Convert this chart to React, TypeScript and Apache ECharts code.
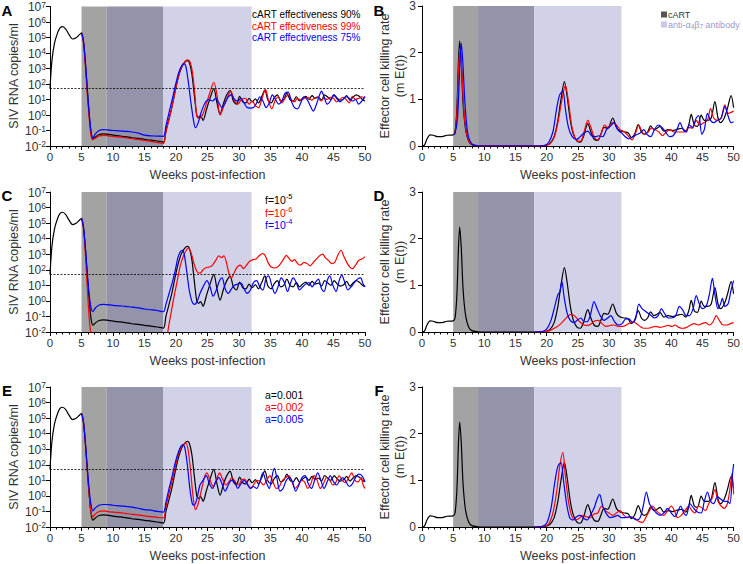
import React, { useEffect, useRef } from 'react';
import * as echarts from 'echarts';

const FONT = '"Liberation Sans", Arial, sans-serif';

// ---- shaded treatment windows (weeks) ----
const bandRanges: [number, number][] = [[5, 9], [9, 18], [18, 32]];
const bandColors = ['#a3a3a3', '#9393a9', '#d1d1e7'];
const detectionLimit = 50;
const xTicks = { min: 0, max: 50, interval: 5 };

// ---- viral load (copies/ml), base case (black in A, C, E) ----
const vBlack: [number, number][] = [[0,50],[0.3,3000],[0.7,4e4],[1.2,2e5],[1.6,4.2e5],[2,5e5],[2.5,3.5e5],[3,1.6e5],[3.6,8e4],[4.2,1e5],[4.7,1.6e5],[5,2e5],[5.3,6e4],[5.6,3000],[5.9,60],[6.2,1.5],[6.5,0.08],[6.8,0.028],[7.2,0.038],[7.8,0.055],[8.5,0.06],[9,0.058],[10,0.05],[11,0.045],[12,0.04],[13,0.034],[14,0.031],[15,0.027],[16,0.024],[17,0.021],[18,0.018],[18.4,0.1],[18.9,0.6],[19.4,4],[19.9,40],[20.4,300],[20.9,1200],[21.4,2500],[21.8,3200],[22.1,2500],[22.5,500],[22.9,20],[23.3,1],[23.6,0.7],[23.9,0.9],[24.3,0.45],[24.8,2],[25.4,12],[26,50],[26.5,6],[27,1.1],[27.5,5],[28,18],[28.6,38],[29.1,8],[29.6,5],[30.1,16],[30.6,7],[31.1,6],[31.6,12],[32.1,7],[32.6,11],[33.1,6],[33.6,15],[34.1,40],[34.6,9],[35.1,6],[35.6,13],[36.1,20],[36.6,8],[37.1,10],[37.6,25],[38.1,10],[38.6,8],[39.1,15],[39.6,8],[40.1,12],[40.6,16],[41.1,10],[41.6,18],[42.1,12],[42.6,14],[43.1,9],[43.6,20],[44.1,14],[44.6,10],[45.1,20],[45.6,12],[46.1,9],[46.6,11],[47.1,18],[47.6,9],[48.1,14],[48.6,20],[49.1,16],[49.6,10],[50,8]];
// A: cART effectiveness 99% (red), 75% (blue)
const vRed99: [number, number][] = [[5,2e5],[5.3,5e4],[5.6,2000],[5.9,30],[6.2,0.8],[6.5,0.05],[6.8,0.025],[7.2,0.032],[7.8,0.045],[8.5,0.048],[9,0.047],[10,0.042],[12,0.034],[14,0.026],[16,0.02],[17,0.017],[18,0.014],[18.4,0.08],[18.9,0.5],[19.4,4],[19.9,40],[20.4,350],[20.9,1400],[21.4,2800],[21.8,3600],[22.2,2800],[22.6,600],[23,20],[23.3,0.8],[23.7,0.6],[24.2,1],[24.8,5],[25.5,40],[26,130],[26.5,20],[27,1],[27.5,3],[28.2,15],[28.7,35],[29.2,10],[29.8,5],[30.4,10],[31,12],[31.6,5],[32.1,8],[32.6,4],[33.1,3],[33.6,10],[34.2,45],[34.7,8],[35.2,2.5],[35.8,10],[36.3,15],[36.8,6],[37.3,12],[37.8,20],[38.3,10],[38.8,7],[39.3,12],[39.8,9],[40.4,12],[41,14],[41.5,9],[42,12],[42.5,15],[43,8],[43.5,12],[44,10],[44.5,14],[45,12],[45.5,7],[46,10],[46.5,14],[47,10],[47.5,6],[48,16],[48.5,10],[49,12],[49.5,15],[50,12]];
const vBlue75: [number, number][] = [[5,2e5],[5.3,6e4],[5.6,3000],[5.9,60],[6.2,1.5],[6.5,0.1],[6.8,0.032],[7.2,0.06],[7.8,0.1],[8.4,0.115],[9,0.11],[10,0.1],[11,0.095],[12,0.088],[13,0.08],[14,0.068],[15,0.05],[16,0.045],[17,0.044],[18,0.042],[18.4,0.2],[18.9,1.5],[19.4,10],[19.9,80],[20.4,500],[20.9,1500],[21.3,2000],[21.6,1200],[22,100],[22.4,5],[22.8,0.4],[23.1,0.15],[23.5,0.3],[24,1.5],[24.6,6],[25.2,10],[25.8,8],[26.3,12],[26.8,6],[27.3,3],[27.8,6],[28.3,15],[28.8,20],[29.3,10],[29.8,8],[30.3,12],[30.8,6],[31.3,3],[31.8,2.8],[32.3,3],[32.8,6],[33.3,15],[33.8,8],[34.3,3],[34.8,6],[35.3,20],[35.8,10],[36.3,5],[36.8,8],[37.3,25],[37.8,30],[38.3,8],[38.8,3],[39.3,2.5],[39.8,6],[40.3,15],[40.8,10],[41.3,4],[41.8,1.8],[42.3,5],[42.8,20],[43.1,35],[43.5,15],[44,5],[44.5,8],[45,20],[45.5,12],[46,7],[46.5,10],[47,15],[47.5,12],[48,8],[48.5,10],[49,5],[49.5,8],[50,16]];
// C: f = 1e-6 (red), 1e-4 (blue)
const vRedF6: [number, number][] = [[5,2e5],[5.3,5e4],[5.6,1500],[5.9,10],[6.2,0.1],[6.5,0.006],[6.8,0.0005],[18.4,0.0005],[18.7,0.01],[19.2,0.15],[19.7,2],[20.2,20],[20.7,200],[21.2,800],[21.7,2000],[22,2500],[22.4,1200],[22.8,300],[23.3,80],[23.8,60],[24.3,100],[24.8,140],[25.3,150],[25.8,200],[26.3,400],[26.8,800],[27.2,600],[27.6,800],[28,300],[28.4,60],[28.8,30],[29.2,60],[29.7,150],[30.2,200],[30.7,120],[31.2,200],[31.7,350],[32.2,450],[32.7,500],[33.2,800],[33.7,1100],[34.1,900],[34.6,300],[35.1,150],[35.6,130],[36.1,150],[36.6,250],[37.1,500],[37.5,850],[38,500],[38.4,350],[38.8,450],[39.3,250],[39.8,200],[40.3,300],[40.8,250],[41.3,180],[41.8,300],[42.3,500],[42.8,800],[43.3,1000],[43.7,600],[44.2,400],[44.7,250],[45.2,300],[45.7,900],[46.2,1800],[46.6,800],[47.1,300],[47.6,150],[48,120],[48.5,200],[49,400],[49.5,500],[50,700]];
const vBlueF4: [number, number][] = [[5,2e5],[5.3,6e4],[5.6,3000],[5.9,80],[6.2,3],[6.5,0.4],[6.8,0.2],[7.2,0.35],[7.8,0.55],[8.5,0.6],[9,0.58],[10,0.52],[11,0.48],[12,0.45],[13,0.4],[14,0.36],[15,0.3],[16,0.27],[17,0.24],[18,0.2],[18.4,0.6],[18.9,3],[19.4,15],[19.9,100],[20.3,600],[20.7,1500],[21,1800],[21.3,1000],[21.7,80],[22.1,5],[22.5,1],[22.9,0.6],[23.3,0.8],[23.8,3],[24.3,8],[24.9,20],[25.4,8],[25.9,2],[26.4,5],[26.9,20],[27.3,30],[27.8,6],[28.3,3],[28.8,6],[29.3,10],[29.8,12],[30.3,14],[30.8,6],[31.3,3],[31.8,5],[32.3,15],[32.8,20],[33.3,8],[33.8,5],[34.3,30],[34.7,40],[35.2,10],[35.7,3],[36.2,8],[36.7,30],[37.2,15],[37.7,4],[38.2,15],[38.6,30],[39.1,15],[39.6,5],[40.1,8],[40.6,12],[41.1,15],[41.6,8],[42.1,15],[42.6,25],[43.1,6],[43.5,4],[44,20],[44.4,40],[44.9,10],[45.4,4],[45.9,20],[46.3,45],[46.8,15],[47.3,5],[47.8,8],[48.3,15],[48.8,25],[49.3,30],[49.7,12],[50,8]];
// E: a = 0.002 (red), 0.005 (blue)
const vRedA2: [number, number][] = [[5,2e5],[5.3,6e4],[5.6,3000],[5.9,60],[6.2,1.5],[6.5,0.1],[6.8,0.045],[7.2,0.07],[7.8,0.1],[8.5,0.11],[9,0.1],[10,0.09],[11,0.085],[12,0.075],[13,0.065],[14,0.06],[15,0.052],[16,0.047],[17,0.042],[18,0.038],[18.4,0.2],[18.9,1.5],[19.4,10],[19.9,80],[20.4,500],[20.9,1500],[21.3,2200],[21.6,2500],[21.9,1000],[22.3,50],[22.7,1],[23.1,0.13],[23.5,0.3],[24,2],[24.5,15],[24.9,30],[25.4,10],[25.9,4],[26.4,10],[26.9,30],[27.4,12],[27.9,5],[28.4,8],[28.9,15],[29.4,8],[29.9,5],[30.4,10],[30.9,12],[31.4,5],[31.9,3],[32.4,6],[32.9,10],[33.4,8],[33.9,5],[34.4,10],[34.9,20],[35.4,8],[35.9,3],[36.4,4],[36.9,10],[37.4,15],[37.9,20],[38.4,8],[38.9,3],[39.4,5],[39.9,10],[40.4,8],[40.9,3],[41.4,6],[41.9,20],[42.4,10],[42.9,3],[43.4,6],[43.9,15],[44.4,10],[44.9,5],[45.4,8],[45.9,20],[46.4,10],[46.9,7],[47.4,15],[47.9,30],[48.4,10],[48.9,8],[49.4,15],[49.7,5],[50,3]];
const vBlueA5: [number, number][] = [[5,2e5],[5.3,6e4],[5.6,3000],[5.9,80],[6.2,3],[6.5,0.3],[6.8,0.11],[7.2,0.17],[7.8,0.25],[8.5,0.28],[9,0.28],[10,0.25],[11,0.23],[12,0.21],[13,0.19],[14,0.16],[15,0.13],[16,0.12],[17,0.1],[18,0.09],[18.4,0.4],[18.9,3],[19.4,20],[19.9,150],[20.4,700],[20.8,1600],[21.1,2000],[21.4,1200],[21.8,100],[22.2,3],[22.6,0.3],[22.9,0.25],[23.3,0.6],[23.8,5],[24.3,10],[24.8,20],[25.3,6],[25.8,3],[26.3,8],[26.8,15],[27.3,6],[27.8,2],[28.3,5],[28.8,10],[29.3,8],[29.8,3],[30.3,6],[30.8,10],[31.3,6],[31.8,3],[32.3,4],[32.8,3],[33.3,8],[33.8,30],[34.3,8],[34.8,3],[35.2,15],[35.6,60],[36,15],[36.5,2],[37,3],[37.5,10],[38,15],[38.5,8],[39,2],[39.5,5],[40,15],[40.5,20],[41,6],[41.5,3],[42,10],[42.5,30],[43,10],[43.5,3],[44,8],[44.5,20],[45,8],[45.5,5],[46,10],[46.5,15],[47,8],[47.5,4],[48,6],[48.5,15],[49,25],[49.5,20],[50,8]];

// ---- effector cell killing rate m E(t) ----
const kBlack: [number, number][] = [[0,0],[0.4,0.02],[0.8,0.15],[1.3,0.24],[1.8,0.23],[2.5,0.2],[3.2,0.2],[4,0.23],[5,0.24],[5.3,0.3],[5.6,0.8],[5.85,1.8],[6.05,2.25],[6.3,1.8],[6.6,0.9],[7,0.35],[7.5,0.1],[8,0.03],[9,0.005],[10,0],[19,0],[19.8,0.01],[20.5,0.05],[21.2,0.2],[21.8,0.55],[22.3,1.0],[22.85,1.38],[23.3,1.05],[23.8,0.55],[24.3,0.25],[24.9,0.1],[25.4,0.08],[25.9,0.2],[26.6,0.48],[27.1,0.3],[27.6,0.15],[28.2,0.12],[28.7,0.25],[29.2,0.4],[29.8,0.38],[30.6,0.6],[31.2,0.4],[31.8,0.32],[32.5,0.3],[33.1,0.28],[33.6,0.18],[34.1,0.25],[34.7,0.46],[35.2,0.3],[35.7,0.25],[36.2,0.3],[36.7,0.43],[37.2,0.35],[37.7,0.38],[38.2,0.42],[38.8,0.32],[39.5,0.35],[40.2,0.33],[41,0.36],[41.7,0.38],[42.3,0.32],[42.8,0.45],[43.2,0.68],[43.7,0.45],[44.2,0.42],[44.8,0.66],[45.3,0.55],[45.9,0.55],[46.4,0.6],[47,0.95],[47.5,0.6],[47.9,0.5],[48.5,0.6],[49,0.8],[49.6,1.08],[50,0.82]];
const kRedB: [number, number][] = [[5,0.24],[5.3,0.28],[5.6,0.7],[5.85,1.6],[6.1,2.1],[6.35,1.7],[6.7,0.8],[7.1,0.3],[7.6,0.08],[8.2,0.02],[9,0.003],[10,0],[19,0],[19.8,0.01],[20.5,0.04],[21.2,0.18],[21.8,0.5],[22.4,0.95],[23,1.3],[23.5,0.95],[24,0.45],[24.5,0.2],[25.1,0.1],[25.6,0.12],[26.1,0.35],[26.6,0.55],[27.1,0.4],[27.6,0.2],[28.2,0.13],[28.7,0.25],[29.3,0.45],[29.8,0.4],[30.6,0.5],[31.2,0.45],[31.8,0.35],[32.5,0.3],[33.2,0.2],[33.7,0.13],[34.2,0.25],[34.8,0.45],[35.3,0.3],[35.8,0.25],[36.3,0.3],[36.8,0.38],[37.4,0.35],[38,0.3],[38.6,0.22],[39.2,0.3],[39.8,0.35],[40.4,0.3],[41,0.3],[41.6,0.3],[42.2,0.3],[42.8,0.4],[43.4,0.38],[44,0.55],[44.6,0.45],[45.2,0.5],[45.8,0.55],[46.3,0.8],[46.8,0.6],[47.4,0.55],[48,0.6],[48.6,0.88],[49.1,0.7],[49.6,0.72],[50,0.75]];
const kBlueB: [number, number][] = [[5,0.24],[5.3,0.27],[5.7,0.6],[6,1.5],[6.3,2.2],[6.55,1.8],[6.9,0.9],[7.3,0.3],[7.8,0.08],[8.5,0.01],[9.5,0],[19,0],[19.6,0.01],[20.3,0.07],[21,0.3],[21.6,0.8],[22.1,1.1],[22.6,1.18],[23,0.8],[23.5,0.4],[24.1,0.2],[24.8,0.14],[25.4,0.2],[26,0.28],[26.6,0.32],[27.2,0.22],[27.8,0.2],[28.4,0.22],[29,0.2],[29.6,0.35],[30.2,0.42],[30.8,0.5],[31.4,0.35],[32,0.28],[32.6,0.2],[33.2,0.15],[33.8,0.2],[34.4,0.24],[35,0.28],[35.6,0.35],[36.1,0.25],[36.7,0.2],[37.3,0.35],[37.9,0.45],[38.5,0.4],[39.1,0.3],[39.7,0.2],[40.3,0.22],[40.9,0.35],[41.4,0.5],[41.9,0.35],[42.4,0.3],[42.9,0.45],[43.4,0.4],[44,0.6],[44.4,0.65],[44.9,0.25],[45.3,0.35],[45.8,0.7],[46.3,0.55],[46.8,0.5],[47.4,0.55],[48,0.6],[48.6,0.85],[49.1,0.65],[49.6,0.5],[50,0.52]];
const kRedD: [number, number][] = [[18,0],[19.5,0.005],[20.5,0.03],[21.5,0.1],[22.3,0.18],[23,0.28],[23.6,0.36],[24,0.38],[24.6,0.33],[25.3,0.22],[26,0.15],[26.6,0.14],[27.2,0.18],[27.8,0.24],[28.3,0.25],[28.9,0.18],[29.5,0.12],[30.2,0.14],[30.8,0.15],[31.5,0.12],[32.2,0.12],[32.8,0.15],[33.4,0.2],[33.9,0.22],[34.5,0.17],[35,0.12],[35.6,0.08],[36.2,0.08],[36.8,0.1],[37.5,0.12],[38.2,0.1],[38.9,0.12],[39.5,0.14],[40.1,0.12],[40.6,0.15],[41.2,0.1],[41.8,0.08],[42.5,0.1],[43.1,0.15],[43.7,0.18],[44.3,0.15],[44.9,0.18],[45.5,0.2],[46.1,0.15],[46.7,0.22],[47.2,0.35],[47.7,0.25],[48.3,0.15],[48.9,0.15],[49.5,0.18],[50,0.2]];
const kBlueD: [number, number][] = [[18,0],[19.3,0.01],[20,0.06],[20.7,0.25],[21.3,0.55],[21.8,0.8],[22.1,0.85],[22.45,1.08],[22.8,0.75],[23.3,0.4],[23.8,0.25],[24.4,0.2],[24.9,0.25],[25.5,0.3],[26,0.22],[26.5,0.22],[27,0.35],[27.6,0.65],[28.1,0.5],[28.6,0.35],[29.2,0.25],[29.8,0.3],[30.3,0.35],[30.9,0.22],[31.5,0.15],[32.1,0.18],[32.7,0.28],[33.2,0.28],[33.8,0.2],[34.3,0.3],[34.8,0.6],[35.3,0.5],[35.8,0.45],[36.3,0.4],[36.8,0.35],[37.3,0.3],[37.9,0.35],[38.4,0.5],[38.9,0.4],[39.5,0.3],[40.1,0.3],[40.7,0.35],[41.3,0.55],[41.8,0.48],[42.4,0.35],[42.9,0.35],[43.5,0.5],[44,0.78],[44.5,0.6],[45,0.5],[45.6,0.55],[46.1,0.8],[46.6,1.15],[47,0.8],[47.5,0.5],[47.9,0.6],[48.2,0.72],[48.6,0.55],[49.1,0.6],[49.6,0.9],[50,1.1]];
const kRedF: [number, number][] = [[18,0],[19.5,0.01],[20.3,0.06],[21,0.3],[21.6,0.75],[22.1,1.3],[22.6,1.6],[23,1.1],[23.5,0.55],[24,0.25],[24.6,0.15],[25.2,0.18],[25.8,0.25],[26.4,0.22],[27,0.2],[27.6,0.28],[28.2,0.3],[28.8,0.45],[29.4,0.35],[30,0.3],[30.6,0.25],[31.2,0.3],[31.8,0.35],[32.4,0.25],[33,0.2],[33.6,0.22],[34.2,0.18],[34.8,0.12],[35.4,0.1],[35.9,0.2],[36.5,0.35],[37,0.45],[37.6,0.35],[38.2,0.28],[38.8,0.25],[39.4,0.35],[40,0.45],[40.5,0.35],[41,0.2],[41.6,0.25],[42.2,0.35],[42.8,0.45],[43.3,0.35],[43.8,0.3],[44.4,0.45],[45,0.4],[45.5,0.35],[46,0.5],[46.5,0.6],[47,0.8],[47.5,0.55],[48,0.45],[48.5,0.4],[49,0.5],[49.5,0.9],[49.75,1.15],[50,0.7]];
const kBlueF: [number, number][] = [[18,0],[19.2,0.01],[20,0.08],[20.7,0.4],[21.3,0.95],[21.8,1.3],[22.3,1.38],[22.7,1.0],[23.2,0.5],[23.7,0.2],[24.2,0.15],[24.8,0.22],[25.4,0.25],[26,0.18],[26.5,0.15],[27,0.25],[27.6,0.4],[28.1,0.6],[28.5,0.7],[29,0.45],[29.6,0.28],[30.2,0.2],[30.8,0.22],[31.4,0.25],[32,0.2],[32.6,0.2],[33.2,0.22],[33.8,0.2],[34.4,0.15],[35,0.2],[35.5,0.45],[36,0.75],[36.5,0.5],[37,0.4],[37.6,0.3],[38.2,0.25],[38.8,0.3],[39.4,0.4],[40,0.3],[40.6,0.22],[41.1,0.35],[41.5,0.45],[42,0.3],[42.4,0.25],[43,0.5],[43.6,0.4],[44.2,0.32],[44.8,0.3],[45.3,0.55],[45.8,0.75],[46.3,0.55],[46.8,0.5],[47.4,0.65],[47.9,0.6],[48.5,0.55],[49,0.55],[49.4,0.5],[49.8,1.1],[50,1.35]];

const panelLetters = ['A', 'B', 'C', 'D', 'E', 'F'];
const legendA = ['cART effectiveness 90%', 'cART effectiveness 99%', 'cART effectiveness 75%'];
const legendC = [['f=10', '-5'], ['f=10', '-6'], ['f=10', '-4']];
const legendE = ['a=0.001', 'a=0.002', 'a=0.005'];
const lineColors = ['#000000', '#ff0000', '#0000ff'];

export default function App() {
  const ref = useRef<HTMLDivElement>(null);
  useEffect(() => {
    const chart = echarts.init(ref.current!, null, { renderer: 'svg' });
    const lefts = [50, 422];
    const tops = [6, 192, 387];
    const W = 315, H = 140;
    const grids: any[] = [];
    const xAxes: any[] = [];
    const yAxes: any[] = [];
    const series: any[] = [];
    const panelData = [
      [vBlack, vRed99, vBlue75], [kBlack, kRedB, kBlueB],
      [vBlack, vRedF6, vBlueF4], [kBlack, kRedD, kBlueD],
      [vBlack, vRedA2, vBlueA5], [kBlack, kRedF, kBlueF],
    ];
    for (let r = 0; r < 3; r++) {
      for (let c = 0; c < 2; c++) {
        const i = r * 2 + c;
        grids.push({ left: lefts[c], top: tops[r], width: W, height: H });
        xAxes.push({
          gridIndex: i, type: 'value', ...xTicks,
          axisLine: { lineStyle: { color: '#000', width: 1 } },
          axisTick: { length: 4, lineStyle: { color: '#000' } },
          minorTick: { show: true, splitNumber: 5, length: 2.5, lineStyle: { color: '#000' } },
          splitLine: { show: false },
          axisLabel: { color: '#333', fontSize: 11.5, fontFamily: FONT, margin: 5 },
          name: 'Weeks post-infection', nameLocation: 'middle', nameGap: 22,
          nameTextStyle: { fontSize: 12.5, color: '#333', fontFamily: FONT },
        });
        if (c === 0) {
          yAxes.push({
            gridIndex: i, type: 'log', logBase: 10, min: 0.01, max: 1e7, splitNumber: 9,
            axisLine: { show: true, lineStyle: { color: '#000' } },
            axisTick: { show: true, length: 4, lineStyle: { color: '#000' } },
            splitLine: { show: false },
            axisLabel: {
              margin: 4, showMinLabel: true, showMaxLabel: true, hideOverlap: false,
              formatter: (v: number) => `{b|10}{s|${Math.round(Math.log10(v))}}`,
              rich: {
                b: { fontSize: 12, color: '#333', fontFamily: FONT, lineHeight: 13, verticalAlign: 'bottom' },
                s: { fontSize: 8.5, color: '#333', fontFamily: FONT, lineHeight: 5, verticalAlign: 'top' },
              },
            },
          });
        } else {
          yAxes.push({
            gridIndex: i, type: 'value', min: 0, max: 3, interval: 1,
            axisLine: { show: true, lineStyle: { color: '#000' } },
            axisTick: { show: true, length: 4, lineStyle: { color: '#000' } },
            splitLine: { show: false },
            axisLabel: { color: '#333', fontSize: 12, fontFamily: FONT, margin: 6 },
          });
        }
        panelData[i].forEach((d, k) => {
          const s: any = {
            type: 'line', xAxisIndex: i, yAxisIndex: i, data: d,
            showSymbol: false, symbol: 'none', smooth: 0.3, clip: true,
            lineStyle: { width: 1.2, color: lineColors[k] },
            itemStyle: { color: lineColors[k] },
            z: 3 + k, silent: true,
          };
          if (k === 0) {
            s.markArea = {
              silent: true,
              data: bandRanges.map((b, j) => [
                { xAxis: b[0], itemStyle: { color: bandColors[j], opacity: 1 } },
                { xAxis: b[1] },
              ]),
            };
            if (c === 0) {
              s.markLine = {
                silent: true, symbol: 'none', label: { show: false },
                lineStyle: { color: '#000', type: [2, 1.5], width: 0.8 },
                data: [{ yAxis: detectionLimit }],
              };
            }
          }
          series.push(s);
        });
      }
    }

    const graphics: any[] = [];
    panelLetters.forEach((L, i) => {
      const r = Math.floor(i / 2), c = i % 2;
      graphics.push({
        type: 'text', x: c === 0 ? 7 : 379, y: [10, 195, 390][r],
        style: { text: L, fontSize: 15, fontWeight: 'bold', fontFamily: FONT, fill: '#000', align: 'center', verticalAlign: 'middle' },
      });
    });
    // y-axis names
    [76, 262, 457].forEach((cy) => {
      graphics.push({
        type: 'text', x: 14, y: cy, rotation: Math.PI / 2,
        style: { text: 'SIV RNA copies/ml', fontSize: 12.5, fontFamily: FONT, fill: '#333', align: 'center', verticalAlign: 'middle' },
      });
      graphics.push({
        type: 'text', x: 385, y: cy, rotation: Math.PI / 2,
        style: { text: 'Effector cell killing rate', fontSize: 12.5, fontFamily: FONT, fill: '#333', align: 'center', verticalAlign: 'middle' },
      });
      graphics.push({
        type: 'text', x: 400, y: cy, rotation: Math.PI / 2,
        style: { text: '(m E(t))', fontSize: 12.5, fontFamily: FONT, fill: '#333', align: 'center', verticalAlign: 'middle' },
      });
    });
    // legends
    legendA.forEach((t, k) => {
      graphics.push({ type: 'text', x: 252, y: [14.5, 26, 37.5][k],
        style: { text: t, fontSize: 10, fontFamily: FONT, fill: lineColors[k], align: 'left', verticalAlign: 'middle' } });
    });
    legendC.forEach((t, k) => {
      graphics.push({ type: 'text', x: 265, y: [199, 212, 224][k],
        style: { text: `{n|${t[0]}}{s|${t[1]}}`, align: 'left', verticalAlign: 'middle',
          rich: {
            n: { fontSize: 10.5, fontFamily: FONT, fill: lineColors[k], lineHeight: 13, verticalAlign: 'bottom' },
            s: { fontSize: 7.5, fontFamily: FONT, fill: lineColors[k], lineHeight: 8, verticalAlign: 'top' },
          } } });
    });
    legendE.forEach((t, k) => {
      graphics.push({ type: 'text', x: 265, y: [395, 407, 418.5][k],
        style: { text: t, fontSize: 10.5, fontFamily: FONT, fill: lineColors[k], align: 'left', verticalAlign: 'middle' } });
    });
    // B legend (treatment windows)
    graphics.push({ type: 'rect', shape: { x: 661, y: 11.5, width: 6, height: 6 }, style: { fill: '#555' } });
    graphics.push({ type: 'text', x: 668, y: 14.5, style: { text: 'cART', fontSize: 9, fontFamily: FONT, fill: '#333', verticalAlign: 'middle' } });
    graphics.push({ type: 'rect', shape: { x: 661, y: 21.5, width: 6, height: 6 }, style: { fill: '#c9c9e3' } });
    graphics.push({ type: 'text', x: 668, y: 25, style: {
      text: 'anti-{g|α}{sub|4}{g|β}{sub|7} antibody', fontSize: 9, fontFamily: FONT, fill: '#9a9ad0', verticalAlign: 'middle',
      rich: {
        g: { fontSize: 9, fontFamily: FONT, fill: '#9a9ad0', lineHeight: 9, verticalAlign: 'top' },
        sub: { fontSize: 6.5, fontFamily: FONT, fill: '#9a9ad0', lineHeight: 6, verticalAlign: 'bottom' },
      } } });

    chart.setOption({
      animation: false,
      backgroundColor: '#fff',
      grid: grids, xAxis: xAxes, yAxis: yAxes, series, graphic: graphics,
    });
    return () => chart.dispose();
  }, []);
  return <div ref={ref} style={{ position: 'absolute', left: 0, top: 0, width: 743, height: 564 }} />;
}
